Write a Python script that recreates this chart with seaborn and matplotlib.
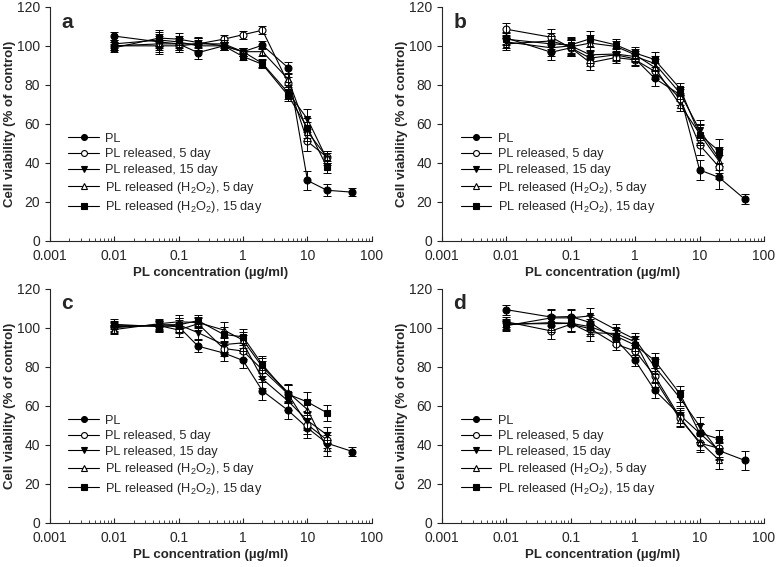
import numpy as np
import pandas as pd
import seaborn as sns
import matplotlib.pyplot as plt

# concentrations (ug/ml)
conc = [0.01, 0.05, 0.1, 0.2, 0.5, 1, 2, 5, 10, 20, 50]

series_names = ['PL', 'PL released, 5 day', 'PL released, 15 day',
                r'PL released (H$_2$O$_2$), 5 day', r'PL released (H$_2$O$_2$), 15 day']

# panel a
a_pl = [105, 102, 101, 96.5, 100, 97, 100.3, 88.8, 31, 26, 25]
a_r5 = [100, 100, 100, 101, 103.4, 105.7, 108, 81, 51, 43]
a_r15 = [101, 103, 102, 100, 100, 97, 91, 76, 62.5, 42]
a_h5 = [100, 101, 101, 101, 101, 97, 97, 83, 56, 43]
a_h15 = [99, 104, 103.4, 101.7, 100, 94.5, 90.5, 74.6, 58, 38]
a_err = [2, 4, 3, 3, 2, 2, 2, 3, 5, 3, 2]

# panel b
b_pl = [104, 96.7, 99, 93.7, 95.4, 93.3, 83.4, 74.9, 36.4, 32.6, 21.5]
b_r5 = [108.5, 104.4, 99, 91.4, 94, 92.8, 87, 72.8, 49.2, 38]
b_r15 = [102, 99, 100, 95.4, 95.8, 94.5, 91, 75.7, 56.9, 42.4]
b_h5 = [101, 102.5, 99.5, 101.4, 99.7, 95.4, 89, 69.7, 55, 41]
b_h15 = [103.4, 101, 100.5, 103.6, 100.5, 96.3, 93, 78, 54.4, 46.2]
b_err = [3, 4, 4, 4, 3, 3, 4, 3, 5, 6, 2.5]

# panel c
c_pl = [100.5, 101, 100.5, 90.5, 87, 83.2, 67.6, 57.6, 48.6, 40.8, 36.5]
c_r5 = [101, 101, 98.8, 102, 89.3, 88, 78.4, 66, 50.3, 42.5]
c_r15 = [100, 101.5, 101.5, 97.4, 91.3, 92.2, 73.7, 62.4, 52.4, 45.1]
c_h5 = [99, 102, 103, 102.6, 98.8, 93.6, 79.8, 66.8, 58, 38.2]
c_h15 = [101.7, 100.5, 101.4, 103.6, 96.5, 95.3, 81, 65.9, 61.9, 56.4]
c_err = [2.5, 2.5, 3.5, 3, 4, 4, 4.5, 4.5, 5, 4, 2.5]

# panel d
d_pl = [109.2, 105.4, 105.7, 102.6, 94, 83.2, 68, 55, 46, 37, 32]
d_r5 = [103, 98.3, 101.7, 99.5, 91.5, 88, 75.4, 53.8, 40.8, 38.2]
d_r15 = [101, 105, 105, 106, 99, 94, 80, 63.8, 49.5, 36.5]
d_h5 = [101.5, 102.6, 102.2, 97.4, 97, 92.7, 73.7, 52.9, 41.6, 32.2]
d_h15 = [102, 102, 102.2, 100.5, 95.7, 91, 83.2, 65.9, 46, 43]
d_err = [2.5, 4, 4, 4, 3, 3, 4, 4, 4.5, 4.5, 5]

panels = {
    'a': ([a_pl, a_r5, a_r15, a_h5, a_h15], a_err),
    'b': ([b_pl, b_r5, b_r15, b_h5, b_h15], b_err),
    'c': ([c_pl, c_r5, c_r15, c_h5, c_h15], c_err),
    'd': ([d_pl, d_r5, d_r15, d_h5, d_h15], d_err),
}

markers = ['o', 'o', 'v', '^', 's']
facecolors = ['black', 'white', 'black', 'white', 'black']

sns.set_style('ticks')
plt.rcParams['font.family'] = ['Liberation Sans', 'DejaVu Sans']
plt.rcParams['mathtext.default'] = 'regular'
plt.rcParams['font.size'] = 9

fig = plt.figure(figsize=(7.78, 5.67), dpi=100)
positions = {
    'a': [0.064, 0.575, 0.414, 0.413],
    'b': [0.568, 0.575, 0.414, 0.413],
    'c': [0.064, 0.078, 0.414, 0.413],
    'd': [0.568, 0.078, 0.414, 0.413],
}

for key, (ys, err) in panels.items():
    ax = fig.add_axes(positions[key])
    for i, y in enumerate(ys):
        x = conc[:len(y)]
        df = pd.DataFrame({'conc': x, 'viab': y})
        sns.lineplot(data=df, x='conc', y='viab', ax=ax, color='black',
                     lw=0.8, marker=markers[i], mfc=facecolors[i], mec='black',
                     mew=0.8, ms=5, label=series_names[i])
        ax.errorbar(x, y, yerr=err[:len(y)], fmt='none', ecolor='black',
                    elinewidth=0.7, capsize=3, capthick=0.7)
    ax.set_xscale('log')
    ax.set_xlim(0.001, 100)
    ax.set_ylim(0, 120)
    ax.set_yticks(range(0, 121, 20))
    ax.set_xticks([0.001, 0.01, 0.1, 1, 10, 100])
    ax.set_xticklabels(['0.001', '0.01', '0.1', '1', '10', '100'])
    ax.tick_params(axis='x', which='both', direction='in', labelsize=10, pad=6)
    ax.tick_params(axis='y', direction='out', labelsize=10)
    sns.despine(ax=ax)
    ax.set_xlabel('PL concentration (\u00b5g/ml)', fontweight='bold', fontsize=9.5, labelpad=3)
    ax.set_ylabel('Cell viability (% of control)', fontweight='bold', fontsize=9.5)
    ax.yaxis.set_label_coords(-0.105, 0.5)
    ax.text(0.035, 0.935, key, transform=ax.transAxes, fontsize=15,
            fontweight='bold', va='center')
    ax.legend(loc='upper left', bbox_to_anchor=(0.03, 0.5), frameon=False,
              handlelength=2.4, labelspacing=0.28, fontsize=9.2,
              borderaxespad=0.3, handletextpad=0.5, markerscale=0.85)

fig.savefig('out.png', dpi=100)
